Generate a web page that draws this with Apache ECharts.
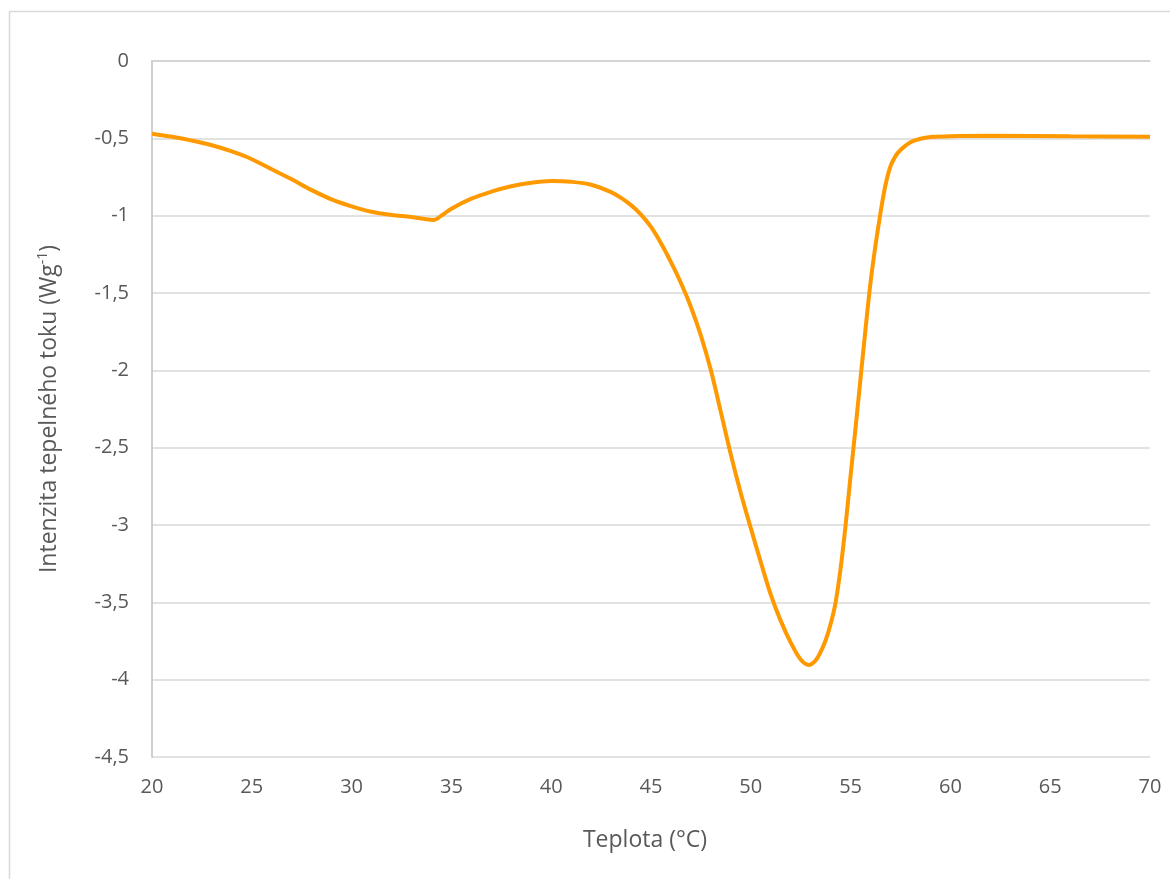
<!DOCTYPE html>
<html>
<head>
<meta charset="utf-8">
<script src="https://cdn.jsdelivr.net/npm/echarts@6/dist/echarts.min.js"></script>
<style>html,body{margin:0;padding:0;background:#fff}#c{width:1170px;height:879px}</style>
</head>
<body>
<div id="c"></div>
<script>
const temperature = [20,21,22,23,24,25,26,27,28,29,30,31,32,33,33.6,34.1,34.5,35,36,37,38,39,40,41,42,43,43.5,44,44.5,45,45.5,46,46.5,47,47.5,48,48.5,49,49.5,50,50.5,51,51.5,52,52.5,52.9,53.25,53.5,53.75,54,54.25,54.5,54.75,55,55.25,55.5,55.75,56,56.25,56.5,56.75,57,57.25,57.5,58,58.5,59,60,62,66,70];
const heatFlow = [-0.47,-0.49,-0.515,-0.545,-0.585,-0.635,-0.70,-0.765,-0.835,-0.895,-0.94,-0.975,-0.995,-1.008,-1.02,-1.028,-1.0,-0.955,-0.89,-0.845,-0.81,-0.787,-0.776,-0.781,-0.80,-0.848,-0.885,-0.932,-0.993,-1.073,-1.178,-1.30,-1.435,-1.59,-1.775,-2.0,-2.27,-2.545,-2.795,-3.02,-3.24,-3.45,-3.62,-3.76,-3.87,-3.905,-3.875,-3.82,-3.745,-3.64,-3.5,-3.28,-3.0,-2.68,-2.37,-2.05,-1.73,-1.43,-1.19,-0.98,-0.80,-0.68,-0.615,-0.575,-0.525,-0.503,-0.492,-0.486,-0.484,-0.487,-0.49];
const xTitle = 'Teplota (°C)';
const yTitle = 'Intenzita tepelného toku (Wg{sup|-1})';

const chart = echarts.init(document.getElementById('c'));
const fontFam = '"Open Sans", "Liberation Sans", sans-serif';
chart.setOption({
  animation: false,
  backgroundColor: '#fff',
  graphic: [{
    type: 'rect', left: 7, top: 9, silent: true,
    shape: { width: 1200, height: 900 },
    style: { fill: 'none', stroke: '#d9d9d9', lineWidth: 1.5 }
  }],
  grid: { left: 152, right: 20, top: 61, bottom: 122 },
  xAxis: {
    type: 'value', min: 20, max: 70, interval: 5,
    name: xTitle, nameLocation: 'middle', nameGap: 72,
    nameTextStyle: { fontSize: 23, color: '#595959', fontFamily: fontFam, padding: [0, 12, 0, 0] },
    axisLine: { show: true, lineStyle: { color: '#d0d0d0', width: 1.5 } },
    axisTick: { show: false },
    axisLabel: { margin: 20, fontSize: 20, color: '#595959', fontFamily: fontFam },
    splitLine: { show: false }
  },
  yAxis: {
    type: 'value', min: -4.5, max: 0, interval: 0.5,
    name: yTitle, nameLocation: 'middle', nameGap: 90, nameRotate: 90,
    nameTextStyle: { fontSize: 23, color: '#595959', fontFamily: fontFam,
      rich: { sup: { fontSize: 14, color: '#595959', fontFamily: fontFam, verticalAlign: 'top', padding: [0,0,12,0] } } },
    axisLine: { show: true, lineStyle: { color: '#bfbfbf', width: 1.5 } },
    axisTick: { show: false },
    axisLabel: { margin: 23, fontSize: 20, color: '#595959', fontFamily: fontFam,
      formatter: v => String(v).replace('.', ',') },
    splitLine: { show: true, lineStyle: { color: '#d9d9d9', width: 1.5 } }
  },
  series: [{
    type: 'line',
    data: temperature.map((t, i) => [t, heatFlow[i]]),
    smooth: 0.35,
    showSymbol: false,
    lineStyle: { color: '#FF9900', width: 4 },
    itemStyle: { color: '#FF9900' }
  }]
});
</script>
</body>
</html>
